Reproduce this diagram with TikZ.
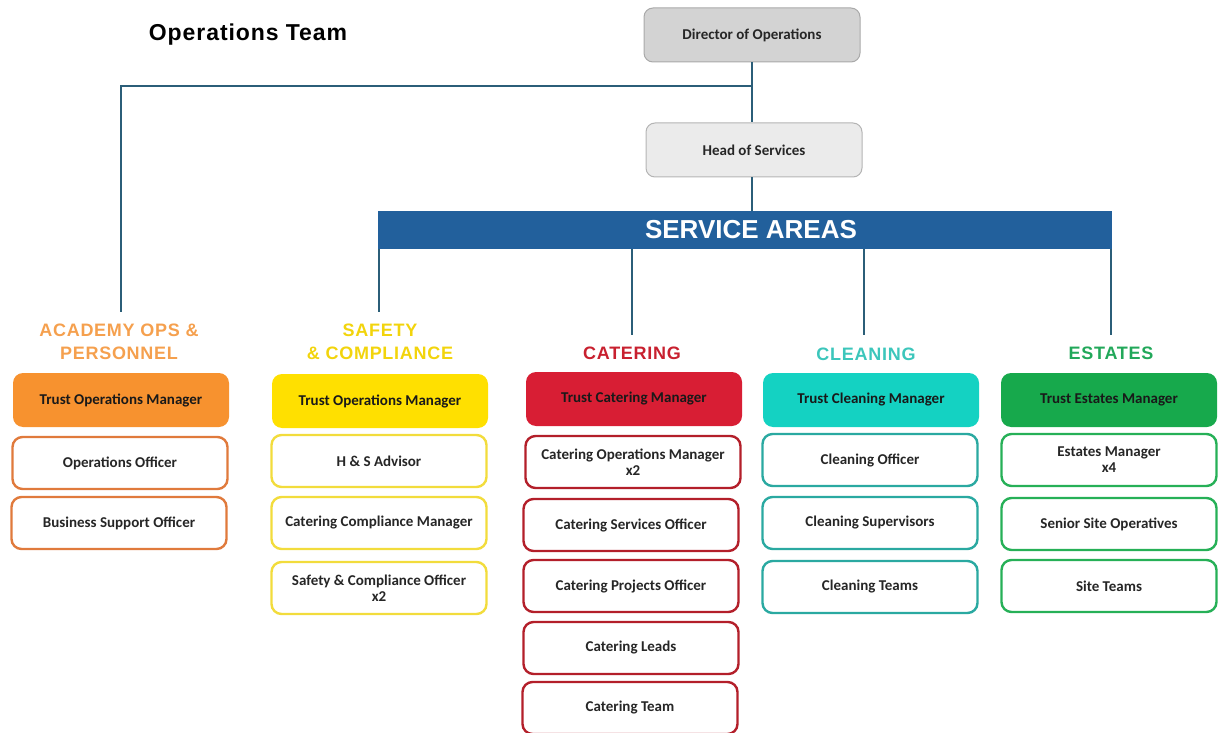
\documentclass[tikz,border=0pt]{standalone}
\usepackage{fontspec}
\setmainfont{Liberation Sans}
\newfontfamily\boxfont{Carlito}
\newfontfamily\headfont{Liberation Sans}
\usetikzlibrary{positioning}

\definecolor{linecol}{HTML}{2B5E78}
\definecolor{barcol}{HTML}{22609C}
\definecolor{dirfill}{HTML}{D3D3D3}
\definecolor{dirdraw}{HTML}{A9A9A9}
\definecolor{headfill}{HTML}{EBEBEB}
\definecolor{headdraw}{HTML}{B4B4B4}
\definecolor{orgT}{HTML}{F5A04E}
\definecolor{orgF}{HTML}{F7922F}
\definecolor{orgD}{HTML}{E07A3C}
\definecolor{yelT}{HTML}{F2D40C}
\definecolor{yelF}{HTML}{FFE000}
\definecolor{yelD}{HTML}{F2DC3C}
\definecolor{redT}{HTML}{C8202F}
\definecolor{redF}{HTML}{D81E34}
\definecolor{redD}{HTML}{B31F2A}
\definecolor{teaT}{HTML}{3CC6BB}
\definecolor{teaF}{HTML}{14D2C2}
\definecolor{teaD}{HTML}{2AA9A1}
\definecolor{grnT}{HTML}{22A85A}
\definecolor{grnF}{HTML}{17A94C}
\definecolor{grnD}{HTML}{26B057}

\tikzset{
  conn/.style={draw=linecol, line width=2.6pt},
  topbox/.style={draw=#1, rounded corners=9pt, line width=1pt, minimum width=216pt,
    minimum height=54pt, inner sep=0pt, font=\boxfont\bfseries\fontsize{15}{17}\selectfont,
    align=center, text=black!85},
  lead/.style={fill=#1, draw=none, rounded corners=10pt, minimum width=216pt,
    minimum height=54pt, inner sep=0pt, font=\boxfont\bfseries\fontsize{15}{17}\selectfont,
    align=center, text=black!90},
  sub/.style={draw=#1, fill=white, rounded corners=10pt, line width=2.4pt, minimum width=215pt,
    minimum height=52pt, inner sep=0pt, font=\boxfont\bfseries\fontsize{15}{16}\selectfont,
    align=center, text=black!85},
  areahead/.style={text=#1, align=center, inner sep=0pt,
    font=\headfont\bfseries\fontsize{18}{22.5}\selectfont\addfontfeature{LetterSpace=4}},
}

\begin{document}
\begin{tikzpicture}[x=1pt,y=-1pt]
\useasboundingbox (0,0) rectangle (1219,733);

% title
\node[font=\headfont\bfseries\fontsize{23}{26}\selectfont\addfontfeature{LetterSpace=4}, anchor=center] (title) at (248,35) {Operations Team};

% top of the hierarchy
\node[topbox=dirdraw, fill=dirfill] (dir) at (752,35) {Director of Operations};
\node[topbox=headdraw, fill=headfill] (head) at (754,150) {Head of Services};

% service areas banner and its label
\node[fill=barcol, minimum width=734pt, minimum height=38pt, inner sep=0pt] (bar) at (745,230) {};
\node[text=white, inner sep=0pt, font=\headfont\bfseries\fontsize{26}{28}\selectfont] (bartxt) at (751,230) {SERVICE AREAS};

% area headings
\node[areahead=orgT] (hA) at (119,342) {ACADEMY OPS \&\\PERSONNEL};
\node[areahead=yelT] (hS) at (380,342) {SAFETY\\\& COMPLIANCE};
\node[areahead=redT] (hC) at (632,353) {CATERING};
\node[areahead=teaT] (hL) at (866,354) {CLEANING};
\node[areahead=grnT] (hE) at (1111,353) {ESTATES};

% academy ops & personnel
\node[lead=orgF] (a0) at (121,400) {Trust Operations Manager};
\node[sub=orgD] (a1) at (120,463) {Operations Officer};
\node[sub=orgD] (a2) at (119,523) {Business Support Officer};

% safety & compliance
\node[lead=yelF] (s0) at (380,401) {Trust Operations Manager};
\node[sub=yelD] (s1) at (379,461) {H \& S Advisor};
\node[sub=yelD] (s2) at (379,523) {Catering Compliance Manager};
\node[sub=yelD] (s3) at (379,588) {Safety \& Compliance Officer\\x2};

% catering
\node[lead=redF] (c0) at (634,399) {Trust Catering Manager};
\node[sub=redD] (c1) at (633,462) {Catering Operations Manager\\x2};
\node[sub=redD] (c2) at (631,525) {Catering Services Officer};
\node[sub=redD] (c3) at (631,586) {Catering Projects Officer};
\node[sub=redD] (c4) at (631,648) {Catering Leads};
\node[sub=redD] (c5) at (630,708) {Catering Team};

% cleaning
\node[lead=teaF] (l0) at (871,400) {Trust Cleaning Manager};
\node[sub=teaD] (l1) at (870,460) {Cleaning Officer};
\node[sub=teaD] (l2) at (870,523) {Cleaning Supervisors};
\node[sub=teaD] (l3) at (870,587) {Cleaning Teams};

% estates
\node[lead=grnF] (e0) at (1109,400) {Trust Estates Manager};
\node[sub=grnD] (e1) at (1109,460) {Estates Manager\\x4};
\node[sub=grnD] (e2) at (1109,524) {Senior Site Operatives};
\node[sub=grnD] (e3) at (1109,586) {Site Teams};

% connector end points
\coordinate (jn) at (752,86);
\coordinate (tA) at (121,312);
\coordinate (tS) at (379,312);
\coordinate (tC) at (632,335);
\coordinate (tL) at (864,335);
\coordinate (tE) at (1111,335);

% connectors
\draw[conn] (dir.south -| jn) -- (head.north -| jn);
\draw[conn] (jn) -| (tA);
\draw[conn] (head.south -| jn) -- (bar.north -| jn);
\draw[conn] (bar.south -| tS) -- (tS);
\draw[conn] (bar.south -| tC) -- (tC);
\draw[conn] (bar.south -| tL) -- (tL);
\draw[conn] (bar.south -| tE) -- (tE);
\end{tikzpicture}
\end{document}
